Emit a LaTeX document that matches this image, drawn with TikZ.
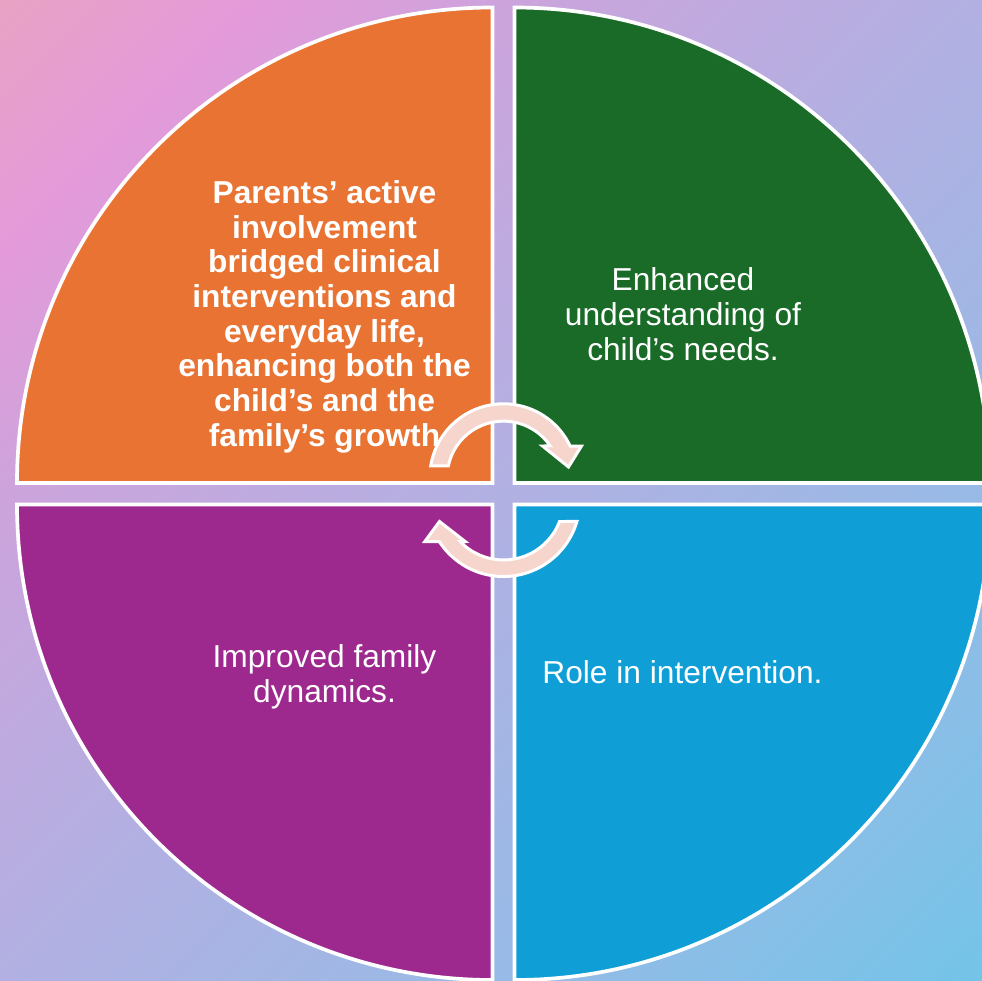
\documentclass[tikz,border=0pt]{standalone}
\usepackage{fontspec}
\setmainfont{Liberation Sans}
\usetikzlibrary{calc}
\definecolor{bgA}{HTML}{E8A2C4}
\definecolor{bgB}{HTML}{E49ADA}
\definecolor{bgC}{HTML}{CCA4DC}
\definecolor{bgD}{HTML}{B2B0E2}
\definecolor{bgE}{HTML}{98BAE6}
\definecolor{bgF}{HTML}{74C4E8}
\definecolor{qorange}{HTML}{E97333}
\definecolor{qgreen}{HTML}{1A6B27}
\definecolor{qpurple}{HTML}{9D298E}
\definecolor{qblue}{HTML}{0F9ED6}
\definecolor{arrowpink}{HTML}{F6D5CD}
\pgfdeclarehorizontalshading{bgshade}{100bp}{color(0bp)=(bgA); color(14.64bp)=(bgA); color(23.83bp)=(bgB); color(33.03bp)=(bgC); color(50bp)=(bgD); color(67.67bp)=(bgE); color(85.36bp)=(bgF); color(100bp)=(bgF)}
\begin{document}
\begin{tikzpicture}[x=1pt,y=1pt,
  quad/.style={draw=white, line width=3.7pt, line join=miter},
  arrowshape/.style={fill=arrowpink, draw=white, line width=3pt, line join=miter},
  lbl/.style={text=white, inner sep=0pt, anchor=base, font=\fontsize{31.7}{34.7}\selectfont},
  boldlbl/.style={lbl, font=\fontsize{31.7}{34.7}\selectfont\bfseries}]
\useasboundingbox (0,0) rectangle (982,-980);
\shade[shading=bgshade, shading angle=-45] (0,0) rectangle (982,-980);
\begin{scope}
\clip (0,0) rectangle (982,-980);
\coordinate (o1) at (492.5,-483);
\coordinate (o2) at (514.5,-483);
\coordinate (o3) at (492.5,-504.5);
\coordinate (o4) at (514.5,-504.5);
\draw[quad, fill=qorange] (o1) -- ++(-475.5,0) arc[start angle=180, end angle=90, radius=475.5] -- cycle;
\draw[quad, fill=qgreen] (o2) -- ++(0,475.5) arc[start angle=90, end angle=0, radius=475.5] -- cycle;
\draw[quad, fill=qpurple] (o3) -- ++(-475.5,0) arc[start angle=180, end angle=270, radius=475.5] -- cycle;
\draw[quad, fill=qblue] (o4) -- ++(475.5,0) arc[start angle=0, end angle=-90, radius=475.5] -- cycle;
\end{scope}
\node[boldlbl] (tl) at (324.5,-203.3) {\begin{tabular}[t]{@{}c@{}}Parents’ active\\ involvement\\ bridged clinical\\ interventions and\\ everyday life,\\ enhancing both the\\ child’s and the\\ family’s growth\end{tabular}};
\node[lbl] (tr) at (683,-290.7) {\begin{tabular}[t]{@{}c@{}}Enhanced\\ understanding of\\ child’s needs.\end{tabular}};
\node[lbl] (bl) at (324.5,-667.5) {\begin{tabular}[t]{@{}c@{}}Improved family\\ dynamics.\end{tabular}};
\node[lbl] (br) at (682.5,-683.3) {Role in intervention.};
\coordinate (cU) at (503.5,-477.5);
\coordinate (cL) at (503.5,-500);
\draw[arrowshape] ($(cU)+(171:73.7)$) arc[start angle=171, end angle=25.3, radius=73.7] -- (581.5,-446) -- (568.5,-467) -- (542.5,-446) -- ($(cU)+(34:56.4)$) arc[start angle=34, end angle=168.2, radius=56.4] -- cycle;
\draw[arrowshape] ($(cL)+(-16.3:76.5)$) arc[start angle=-16.3, end angle=-147.1, radius=76.5] -- (424.8,-541.5) -- (439.5,-521.5) -- (465.2,-541.5) -- ($(cL)+(-136.2:60)$) arc[start angle=-136.2, end angle=-21, radius=60] -- cycle;
\end{tikzpicture}
\end{document}
